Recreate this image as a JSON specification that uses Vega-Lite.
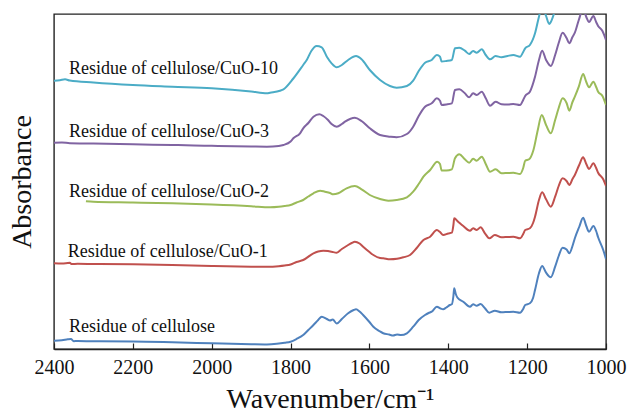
{
  "$schema": "https://vega.github.io/schema/vega-lite/v6.json",
  "width": 552,
  "height": 335,
  "autosize": {"type": "none"},
  "padding": {"left": 54, "top": 14, "right": 23, "bottom": 64},
  "background": "white",
  "config": {"font": "Liberation Serif", "view": {"stroke": "#222", "strokeWidth": 1.4}},
  "datasets": {
    "spectra": [
      {"sample": "cellulose", "wavenumber": 2400, "absorbance": 8.3},
      {"sample": "cellulose", "wavenumber": 2380, "absorbance": 8.7},
      {"sample": "cellulose", "wavenumber": 2365, "absorbance": 9.7},
      {"sample": "cellulose", "wavenumber": 2357, "absorbance": 10.0},
      {"sample": "cellulose", "wavenumber": 2350, "absorbance": 7.8},
      {"sample": "cellulose", "wavenumber": 2340, "absorbance": 8.0},
      {"sample": "cellulose", "wavenumber": 2300, "absorbance": 7.7},
      {"sample": "cellulose", "wavenumber": 2200, "absorbance": 7.5},
      {"sample": "cellulose", "wavenumber": 2100, "absorbance": 6.7},
      {"sample": "cellulose", "wavenumber": 2000, "absorbance": 5.7},
      {"sample": "cellulose", "wavenumber": 1900, "absorbance": 4.8},
      {"sample": "cellulose", "wavenumber": 1860, "absorbance": 4.6},
      {"sample": "cellulose", "wavenumber": 1835, "absorbance": 5.2},
      {"sample": "cellulose", "wavenumber": 1815, "absorbance": 6.2},
      {"sample": "cellulose", "wavenumber": 1800, "absorbance": 7.3},
      {"sample": "cellulose", "wavenumber": 1785, "absorbance": 10},
      {"sample": "cellulose", "wavenumber": 1768, "absorbance": 14},
      {"sample": "cellulose", "wavenumber": 1755, "absorbance": 19},
      {"sample": "cellulose", "wavenumber": 1742, "absorbance": 24},
      {"sample": "cellulose", "wavenumber": 1730, "absorbance": 29},
      {"sample": "cellulose", "wavenumber": 1721, "absorbance": 32.3},
      {"sample": "cellulose", "wavenumber": 1708, "absorbance": 30},
      {"sample": "cellulose", "wavenumber": 1700, "absorbance": 28.5},
      {"sample": "cellulose", "wavenumber": 1693, "absorbance": 29.5},
      {"sample": "cellulose", "wavenumber": 1683, "absorbance": 25.5},
      {"sample": "cellulose", "wavenumber": 1670, "absorbance": 30},
      {"sample": "cellulose", "wavenumber": 1654, "absorbance": 35.7},
      {"sample": "cellulose", "wavenumber": 1640, "absorbance": 39},
      {"sample": "cellulose", "wavenumber": 1634, "absorbance": 39.7},
      {"sample": "cellulose", "wavenumber": 1625, "absorbance": 37.5},
      {"sample": "cellulose", "wavenumber": 1616, "absorbance": 34},
      {"sample": "cellulose", "wavenumber": 1600, "absorbance": 27},
      {"sample": "cellulose", "wavenumber": 1590, "absorbance": 22.3},
      {"sample": "cellulose", "wavenumber": 1575, "absorbance": 18},
      {"sample": "cellulose", "wavenumber": 1565, "absorbance": 15.7},
      {"sample": "cellulose", "wavenumber": 1550, "absorbance": 14.5},
      {"sample": "cellulose", "wavenumber": 1540, "absorbance": 13.5},
      {"sample": "cellulose", "wavenumber": 1530, "absorbance": 14.5},
      {"sample": "cellulose", "wavenumber": 1520, "absorbance": 14},
      {"sample": "cellulose", "wavenumber": 1505, "absorbance": 15.7},
      {"sample": "cellulose", "wavenumber": 1489, "absorbance": 22.3},
      {"sample": "cellulose", "wavenumber": 1475, "absorbance": 29},
      {"sample": "cellulose", "wavenumber": 1459, "absorbance": 34},
      {"sample": "cellulose", "wavenumber": 1450, "absorbance": 36},
      {"sample": "cellulose", "wavenumber": 1442, "absorbance": 37.3},
      {"sample": "cellulose", "wavenumber": 1429, "absorbance": 42.3},
      {"sample": "cellulose", "wavenumber": 1420, "absorbance": 40.5},
      {"sample": "cellulose", "wavenumber": 1413, "absorbance": 39.7},
      {"sample": "cellulose", "wavenumber": 1405, "absorbance": 41.5},
      {"sample": "cellulose", "wavenumber": 1396, "absorbance": 44},
      {"sample": "cellulose", "wavenumber": 1391, "absorbance": 44.7},
      {"sample": "cellulose", "wavenumber": 1387, "absorbance": 53},
      {"sample": "cellulose", "wavenumber": 1385, "absorbance": 60.7},
      {"sample": "cellulose", "wavenumber": 1381, "absorbance": 55},
      {"sample": "cellulose", "wavenumber": 1377, "absorbance": 51.5},
      {"sample": "cellulose", "wavenumber": 1362, "absorbance": 47.3},
      {"sample": "cellulose", "wavenumber": 1345, "absorbance": 42.3},
      {"sample": "cellulose", "wavenumber": 1337, "absorbance": 44.7},
      {"sample": "cellulose", "wavenumber": 1328, "absorbance": 43.3},
      {"sample": "cellulose", "wavenumber": 1318, "absorbance": 45},
      {"sample": "cellulose", "wavenumber": 1307, "absorbance": 40.7},
      {"sample": "cellulose", "wavenumber": 1296, "absorbance": 36.3},
      {"sample": "cellulose", "wavenumber": 1282, "absorbance": 38.3},
      {"sample": "cellulose", "wavenumber": 1265, "absorbance": 36.7},
      {"sample": "cellulose", "wavenumber": 1250, "absorbance": 37},
      {"sample": "cellulose", "wavenumber": 1235, "absorbance": 37.3},
      {"sample": "cellulose", "wavenumber": 1218, "absorbance": 36.3},
      {"sample": "cellulose", "wavenumber": 1210, "absorbance": 40},
      {"sample": "cellulose", "wavenumber": 1205, "absorbance": 44},
      {"sample": "cellulose", "wavenumber": 1193, "absorbance": 45.7},
      {"sample": "cellulose", "wavenumber": 1185, "absorbance": 51},
      {"sample": "cellulose", "wavenumber": 1180, "absorbance": 59},
      {"sample": "cellulose", "wavenumber": 1170, "absorbance": 75.7},
      {"sample": "cellulose", "wavenumber": 1162, "absorbance": 83},
      {"sample": "cellulose", "wavenumber": 1152, "absorbance": 76.3},
      {"sample": "cellulose", "wavenumber": 1140, "absorbance": 71.7},
      {"sample": "cellulose", "wavenumber": 1129, "absorbance": 82.3},
      {"sample": "cellulose", "wavenumber": 1120, "absorbance": 93},
      {"sample": "cellulose", "wavenumber": 1110, "absorbance": 101.3},
      {"sample": "cellulose", "wavenumber": 1100, "absorbance": 99.5},
      {"sample": "cellulose", "wavenumber": 1093, "absorbance": 95.7},
      {"sample": "cellulose", "wavenumber": 1085, "absorbance": 103},
      {"sample": "cellulose", "wavenumber": 1079, "absorbance": 110.7},
      {"sample": "cellulose", "wavenumber": 1068, "absorbance": 122},
      {"sample": "cellulose", "wavenumber": 1058, "absorbance": 131.3},
      {"sample": "cellulose", "wavenumber": 1050, "absorbance": 123},
      {"sample": "cellulose", "wavenumber": 1043, "absorbance": 117.3},
      {"sample": "cellulose", "wavenumber": 1032, "absorbance": 123},
      {"sample": "cellulose", "wavenumber": 1025, "absorbance": 118},
      {"sample": "cellulose", "wavenumber": 1020, "absorbance": 111.7},
      {"sample": "cellulose", "wavenumber": 1007, "absorbance": 99},
      {"sample": "cellulose", "wavenumber": 1000, "absorbance": 90},

      {"sample": "CuO-1", "wavenumber": 2400, "absorbance": 85.7},
      {"sample": "CuO-1", "wavenumber": 2380, "absorbance": 85.5},
      {"sample": "CuO-1", "wavenumber": 2360, "absorbance": 86.2},
      {"sample": "CuO-1", "wavenumber": 2355, "absorbance": 85.0},
      {"sample": "CuO-1", "wavenumber": 2340, "absorbance": 85.2},
      {"sample": "CuO-1", "wavenumber": 2300, "absorbance": 85},
      {"sample": "CuO-1", "wavenumber": 2200, "absorbance": 84.7},
      {"sample": "CuO-1", "wavenumber": 2100, "absorbance": 84},
      {"sample": "CuO-1", "wavenumber": 2000, "absorbance": 83},
      {"sample": "CuO-1", "wavenumber": 1900, "absorbance": 82.3},
      {"sample": "CuO-1", "wavenumber": 1860, "absorbance": 82.2},
      {"sample": "CuO-1", "wavenumber": 1830, "absorbance": 82.8},
      {"sample": "CuO-1", "wavenumber": 1815, "absorbance": 83.5},
      {"sample": "CuO-1", "wavenumber": 1800, "absorbance": 84.5},
      {"sample": "CuO-1", "wavenumber": 1785, "absorbance": 87},
      {"sample": "CuO-1", "wavenumber": 1768, "absorbance": 89},
      {"sample": "CuO-1", "wavenumber": 1742, "absorbance": 95.7},
      {"sample": "CuO-1", "wavenumber": 1730, "absorbance": 97.5},
      {"sample": "CuO-1", "wavenumber": 1717, "absorbance": 98.3},
      {"sample": "CuO-1", "wavenumber": 1705, "absorbance": 98},
      {"sample": "CuO-1", "wavenumber": 1696, "absorbance": 97.3},
      {"sample": "CuO-1", "wavenumber": 1683, "absorbance": 96.3},
      {"sample": "CuO-1", "wavenumber": 1670, "absorbance": 100},
      {"sample": "CuO-1", "wavenumber": 1658, "absorbance": 103},
      {"sample": "CuO-1", "wavenumber": 1645, "absorbance": 106},
      {"sample": "CuO-1", "wavenumber": 1637, "absorbance": 107.3},
      {"sample": "CuO-1", "wavenumber": 1625, "absorbance": 105.5},
      {"sample": "CuO-1", "wavenumber": 1616, "absorbance": 102.3},
      {"sample": "CuO-1", "wavenumber": 1600, "absorbance": 97},
      {"sample": "CuO-1", "wavenumber": 1590, "absorbance": 94},
      {"sample": "CuO-1", "wavenumber": 1573, "absorbance": 91},
      {"sample": "CuO-1", "wavenumber": 1565, "absorbance": 90.7},
      {"sample": "CuO-1", "wavenumber": 1548, "absorbance": 89.7},
      {"sample": "CuO-1", "wavenumber": 1530, "absorbance": 90.2},
      {"sample": "CuO-1", "wavenumber": 1514, "absorbance": 91.7},
      {"sample": "CuO-1", "wavenumber": 1497, "absorbance": 94},
      {"sample": "CuO-1", "wavenumber": 1480, "absorbance": 101},
      {"sample": "CuO-1", "wavenumber": 1463, "absorbance": 109},
      {"sample": "CuO-1", "wavenumber": 1446, "absorbance": 112.3},
      {"sample": "CuO-1", "wavenumber": 1429, "absorbance": 119},
      {"sample": "CuO-1", "wavenumber": 1421, "absorbance": 117},
      {"sample": "CuO-1", "wavenumber": 1413, "absorbance": 114},
      {"sample": "CuO-1", "wavenumber": 1400, "absorbance": 115.5},
      {"sample": "CuO-1", "wavenumber": 1391, "absorbance": 116.3},
      {"sample": "CuO-1", "wavenumber": 1387, "absorbance": 124},
      {"sample": "CuO-1", "wavenumber": 1385, "absorbance": 130.7},
      {"sample": "CuO-1", "wavenumber": 1375, "absorbance": 127.3},
      {"sample": "CuO-1", "wavenumber": 1362, "absorbance": 123},
      {"sample": "CuO-1", "wavenumber": 1345, "absorbance": 118.3},
      {"sample": "CuO-1", "wavenumber": 1337, "absorbance": 120.7},
      {"sample": "CuO-1", "wavenumber": 1328, "absorbance": 119},
      {"sample": "CuO-1", "wavenumber": 1318, "absorbance": 121.7},
      {"sample": "CuO-1", "wavenumber": 1307, "absorbance": 115.7},
      {"sample": "CuO-1", "wavenumber": 1296, "absorbance": 110.7},
      {"sample": "CuO-1", "wavenumber": 1282, "absorbance": 114},
      {"sample": "CuO-1", "wavenumber": 1265, "absorbance": 111.7},
      {"sample": "CuO-1", "wavenumber": 1250, "absorbance": 112},
      {"sample": "CuO-1", "wavenumber": 1235, "absorbance": 112.3},
      {"sample": "CuO-1", "wavenumber": 1218, "absorbance": 110.7},
      {"sample": "CuO-1", "wavenumber": 1210, "absorbance": 115},
      {"sample": "CuO-1", "wavenumber": 1205, "absorbance": 119},
      {"sample": "CuO-1", "wavenumber": 1193, "absorbance": 120.7},
      {"sample": "CuO-1", "wavenumber": 1185, "absorbance": 126},
      {"sample": "CuO-1", "wavenumber": 1180, "absorbance": 132.3},
      {"sample": "CuO-1", "wavenumber": 1170, "absorbance": 149},
      {"sample": "CuO-1", "wavenumber": 1162, "absorbance": 156.7},
      {"sample": "CuO-1", "wavenumber": 1152, "absorbance": 149.7},
      {"sample": "CuO-1", "wavenumber": 1140, "absorbance": 142.3},
      {"sample": "CuO-1", "wavenumber": 1129, "absorbance": 152.3},
      {"sample": "CuO-1", "wavenumber": 1120, "absorbance": 163},
      {"sample": "CuO-1", "wavenumber": 1110, "absorbance": 170.7},
      {"sample": "CuO-1", "wavenumber": 1100, "absorbance": 168},
      {"sample": "CuO-1", "wavenumber": 1093, "absorbance": 164},
      {"sample": "CuO-1", "wavenumber": 1085, "absorbance": 170},
      {"sample": "CuO-1", "wavenumber": 1079, "absorbance": 174},
      {"sample": "CuO-1", "wavenumber": 1068, "absorbance": 184},
      {"sample": "CuO-1", "wavenumber": 1058, "absorbance": 191.7},
      {"sample": "CuO-1", "wavenumber": 1050, "absorbance": 185},
      {"sample": "CuO-1", "wavenumber": 1043, "absorbance": 180},
      {"sample": "CuO-1", "wavenumber": 1032, "absorbance": 185.7},
      {"sample": "CuO-1", "wavenumber": 1025, "absorbance": 181},
      {"sample": "CuO-1", "wavenumber": 1020, "absorbance": 176.3},
      {"sample": "CuO-1", "wavenumber": 1007, "absorbance": 169.7},
      {"sample": "CuO-1", "wavenumber": 1000, "absorbance": 163},

      {"sample": "CuO-2", "wavenumber": 2319, "absorbance": 147.7},
      {"sample": "CuO-2", "wavenumber": 2300, "absorbance": 147.2},
      {"sample": "CuO-2", "wavenumber": 2200, "absorbance": 146.5},
      {"sample": "CuO-2", "wavenumber": 2100, "absorbance": 145.7},
      {"sample": "CuO-2", "wavenumber": 2000, "absorbance": 144.5},
      {"sample": "CuO-2", "wavenumber": 1900, "absorbance": 142.8},
      {"sample": "CuO-2", "wavenumber": 1852, "absorbance": 141.7},
      {"sample": "CuO-2", "wavenumber": 1830, "absorbance": 142.2},
      {"sample": "CuO-2", "wavenumber": 1815, "absorbance": 143},
      {"sample": "CuO-2", "wavenumber": 1800, "absorbance": 144},
      {"sample": "CuO-2", "wavenumber": 1785, "absorbance": 146.5},
      {"sample": "CuO-2", "wavenumber": 1768, "absorbance": 149},
      {"sample": "CuO-2", "wavenumber": 1755, "absorbance": 152.5},
      {"sample": "CuO-2", "wavenumber": 1742, "absorbance": 155.7},
      {"sample": "CuO-2", "wavenumber": 1725, "absorbance": 158.3},
      {"sample": "CuO-2", "wavenumber": 1713, "absorbance": 157.3},
      {"sample": "CuO-2", "wavenumber": 1700, "absorbance": 156},
      {"sample": "CuO-2", "wavenumber": 1692, "absorbance": 154.7},
      {"sample": "CuO-2", "wavenumber": 1679, "absorbance": 155.7},
      {"sample": "CuO-2", "wavenumber": 1658, "absorbance": 160.7},
      {"sample": "CuO-2", "wavenumber": 1637, "absorbance": 163},
      {"sample": "CuO-2", "wavenumber": 1620, "absorbance": 159.7},
      {"sample": "CuO-2", "wavenumber": 1599, "absorbance": 154},
      {"sample": "CuO-2", "wavenumber": 1573, "absorbance": 150},
      {"sample": "CuO-2", "wavenumber": 1552, "absorbance": 148.3},
      {"sample": "CuO-2", "wavenumber": 1531, "absorbance": 149},
      {"sample": "CuO-2", "wavenumber": 1505, "absorbance": 151.7},
      {"sample": "CuO-2", "wavenumber": 1489, "absorbance": 157.3},
      {"sample": "CuO-2", "wavenumber": 1475, "absorbance": 165},
      {"sample": "CuO-2", "wavenumber": 1463, "absorbance": 172.3},
      {"sample": "CuO-2", "wavenumber": 1446, "absorbance": 179},
      {"sample": "CuO-2", "wavenumber": 1428, "absorbance": 187.3},
      {"sample": "CuO-2", "wavenumber": 1421, "absorbance": 185},
      {"sample": "CuO-2", "wavenumber": 1417, "absorbance": 178.5},
      {"sample": "CuO-2", "wavenumber": 1405, "absorbance": 178.5},
      {"sample": "CuO-2", "wavenumber": 1391, "absorbance": 179.7},
      {"sample": "CuO-2", "wavenumber": 1383, "absorbance": 190.7},
      {"sample": "CuO-2", "wavenumber": 1372, "absorbance": 194.7},
      {"sample": "CuO-2", "wavenumber": 1358, "absorbance": 189.7},
      {"sample": "CuO-2", "wavenumber": 1347, "absorbance": 186.3},
      {"sample": "CuO-2", "wavenumber": 1337, "absorbance": 190.3},
      {"sample": "CuO-2", "wavenumber": 1328, "absorbance": 188.3},
      {"sample": "CuO-2", "wavenumber": 1315, "absorbance": 192.3},
      {"sample": "CuO-2", "wavenumber": 1305, "absorbance": 185},
      {"sample": "CuO-2", "wavenumber": 1294, "absorbance": 177.3},
      {"sample": "CuO-2", "wavenumber": 1280, "absorbance": 179.7},
      {"sample": "CuO-2", "wavenumber": 1265, "absorbance": 175.7},
      {"sample": "CuO-2", "wavenumber": 1250, "absorbance": 176},
      {"sample": "CuO-2", "wavenumber": 1235, "absorbance": 176.3},
      {"sample": "CuO-2", "wavenumber": 1218, "absorbance": 175},
      {"sample": "CuO-2", "wavenumber": 1210, "absorbance": 181},
      {"sample": "CuO-2", "wavenumber": 1205, "absorbance": 188.3},
      {"sample": "CuO-2", "wavenumber": 1195, "absorbance": 189.7},
      {"sample": "CuO-2", "wavenumber": 1184, "absorbance": 199},
      {"sample": "CuO-2", "wavenumber": 1173, "absorbance": 219},
      {"sample": "CuO-2", "wavenumber": 1163, "absorbance": 234},
      {"sample": "CuO-2", "wavenumber": 1152, "absorbance": 224},
      {"sample": "CuO-2", "wavenumber": 1140, "absorbance": 215.7},
      {"sample": "CuO-2", "wavenumber": 1129, "absorbance": 229},
      {"sample": "CuO-2", "wavenumber": 1120, "absorbance": 241},
      {"sample": "CuO-2", "wavenumber": 1110, "absorbance": 250.7},
      {"sample": "CuO-2", "wavenumber": 1100, "absorbance": 246},
      {"sample": "CuO-2", "wavenumber": 1093, "absorbance": 238.3},
      {"sample": "CuO-2", "wavenumber": 1085, "absorbance": 247},
      {"sample": "CuO-2", "wavenumber": 1079, "absorbance": 252.3},
      {"sample": "CuO-2", "wavenumber": 1069, "absorbance": 262.3},
      {"sample": "CuO-2", "wavenumber": 1058, "absorbance": 275},
      {"sample": "CuO-2", "wavenumber": 1050, "absorbance": 267},
      {"sample": "CuO-2", "wavenumber": 1043, "absorbance": 261.7},
      {"sample": "CuO-2", "wavenumber": 1032, "absorbance": 267.3},
      {"sample": "CuO-2", "wavenumber": 1025, "absorbance": 262},
      {"sample": "CuO-2", "wavenumber": 1020, "absorbance": 257.3},
      {"sample": "CuO-2", "wavenumber": 1009, "absorbance": 253},
      {"sample": "CuO-2", "wavenumber": 1000, "absorbance": 244},

      {"sample": "CuO-3", "wavenumber": 2400, "absorbance": 206.3},
      {"sample": "CuO-3", "wavenumber": 2380, "absorbance": 206.5},
      {"sample": "CuO-3", "wavenumber": 2360, "absorbance": 205.8},
      {"sample": "CuO-3", "wavenumber": 2300, "absorbance": 205.5},
      {"sample": "CuO-3", "wavenumber": 2200, "absorbance": 204.7},
      {"sample": "CuO-3", "wavenumber": 2100, "absorbance": 204},
      {"sample": "CuO-3", "wavenumber": 2000, "absorbance": 203.2},
      {"sample": "CuO-3", "wavenumber": 1900, "absorbance": 202.5},
      {"sample": "CuO-3", "wavenumber": 1860, "absorbance": 202.3},
      {"sample": "CuO-3", "wavenumber": 1830, "absorbance": 203},
      {"sample": "CuO-3", "wavenumber": 1818, "absorbance": 204},
      {"sample": "CuO-3", "wavenumber": 1800, "absorbance": 207.5},
      {"sample": "CuO-3", "wavenumber": 1793, "absorbance": 210.7},
      {"sample": "CuO-3", "wavenumber": 1776, "absorbance": 215.7},
      {"sample": "CuO-3", "wavenumber": 1768, "absorbance": 220.7},
      {"sample": "CuO-3", "wavenumber": 1755, "absorbance": 226},
      {"sample": "CuO-3", "wavenumber": 1742, "absorbance": 232.3},
      {"sample": "CuO-3", "wavenumber": 1727, "absorbance": 234.7},
      {"sample": "CuO-3", "wavenumber": 1717, "absorbance": 233},
      {"sample": "CuO-3", "wavenumber": 1705, "absorbance": 229},
      {"sample": "CuO-3", "wavenumber": 1696, "absorbance": 225},
      {"sample": "CuO-3", "wavenumber": 1683, "absorbance": 222.3},
      {"sample": "CuO-3", "wavenumber": 1670, "absorbance": 225},
      {"sample": "CuO-3", "wavenumber": 1662, "absorbance": 227.3},
      {"sample": "CuO-3", "wavenumber": 1637, "absorbance": 231.3},
      {"sample": "CuO-3", "wavenumber": 1620, "absorbance": 228},
      {"sample": "CuO-3", "wavenumber": 1599, "absorbance": 220.7},
      {"sample": "CuO-3", "wavenumber": 1573, "absorbance": 214},
      {"sample": "CuO-3", "wavenumber": 1548, "absorbance": 212.3},
      {"sample": "CuO-3", "wavenumber": 1531, "absorbance": 211.7},
      {"sample": "CuO-3", "wavenumber": 1505, "absorbance": 215},
      {"sample": "CuO-3", "wavenumber": 1489, "absorbance": 222.3},
      {"sample": "CuO-3", "wavenumber": 1475, "absorbance": 233},
      {"sample": "CuO-3", "wavenumber": 1459, "absorbance": 242.3},
      {"sample": "CuO-3", "wavenumber": 1442, "absorbance": 245.7},
      {"sample": "CuO-3", "wavenumber": 1429, "absorbance": 250.7},
      {"sample": "CuO-3", "wavenumber": 1421, "absorbance": 248.3},
      {"sample": "CuO-3", "wavenumber": 1417, "absorbance": 244},
      {"sample": "CuO-3", "wavenumber": 1405, "absorbance": 244.5},
      {"sample": "CuO-3", "wavenumber": 1391, "absorbance": 245.7},
      {"sample": "CuO-3", "wavenumber": 1383, "absorbance": 259},
      {"sample": "CuO-3", "wavenumber": 1372, "absorbance": 259.7},
      {"sample": "CuO-3", "wavenumber": 1358, "absorbance": 255.7},
      {"sample": "CuO-3", "wavenumber": 1347, "absorbance": 251.7},
      {"sample": "CuO-3", "wavenumber": 1337, "absorbance": 255.7},
      {"sample": "CuO-3", "wavenumber": 1328, "absorbance": 254},
      {"sample": "CuO-3", "wavenumber": 1315, "absorbance": 257.3},
      {"sample": "CuO-3", "wavenumber": 1305, "absorbance": 250.7},
      {"sample": "CuO-3", "wavenumber": 1294, "absorbance": 243.3},
      {"sample": "CuO-3", "wavenumber": 1280, "absorbance": 247.3},
      {"sample": "CuO-3", "wavenumber": 1265, "absorbance": 244.7},
      {"sample": "CuO-3", "wavenumber": 1250, "absorbance": 244.5},
      {"sample": "CuO-3", "wavenumber": 1235, "absorbance": 245},
      {"sample": "CuO-3", "wavenumber": 1218, "absorbance": 244},
      {"sample": "CuO-3", "wavenumber": 1210, "absorbance": 249},
      {"sample": "CuO-3", "wavenumber": 1205, "absorbance": 253},
      {"sample": "CuO-3", "wavenumber": 1193, "absorbance": 257.3},
      {"sample": "CuO-3", "wavenumber": 1180, "absorbance": 272.3},
      {"sample": "CuO-3", "wavenumber": 1170, "absorbance": 289},
      {"sample": "CuO-3", "wavenumber": 1162, "absorbance": 298.3},
      {"sample": "CuO-3", "wavenumber": 1152, "absorbance": 289},
      {"sample": "CuO-3", "wavenumber": 1140, "absorbance": 283},
      {"sample": "CuO-3", "wavenumber": 1129, "absorbance": 294},
      {"sample": "CuO-3", "wavenumber": 1120, "absorbance": 306},
      {"sample": "CuO-3", "wavenumber": 1110, "absorbance": 316.3},
      {"sample": "CuO-3", "wavenumber": 1100, "absorbance": 311},
      {"sample": "CuO-3", "wavenumber": 1093, "absorbance": 305.7},
      {"sample": "CuO-3", "wavenumber": 1085, "absorbance": 312},
      {"sample": "CuO-3", "wavenumber": 1079, "absorbance": 316.3},
      {"sample": "CuO-3", "wavenumber": 1069, "absorbance": 329},
      {"sample": "CuO-3", "wavenumber": 1058, "absorbance": 340},
      {"sample": "CuO-3", "wavenumber": 1050, "absorbance": 332},
      {"sample": "CuO-3", "wavenumber": 1043, "absorbance": 327},
      {"sample": "CuO-3", "wavenumber": 1032, "absorbance": 333},
      {"sample": "CuO-3", "wavenumber": 1025, "absorbance": 327},
      {"sample": "CuO-3", "wavenumber": 1020, "absorbance": 323},
      {"sample": "CuO-3", "wavenumber": 1009, "absorbance": 318},
      {"sample": "CuO-3", "wavenumber": 1000, "absorbance": 309},

      {"sample": "CuO-10", "wavenumber": 2400, "absorbance": 268.3},
      {"sample": "CuO-10", "wavenumber": 2385, "absorbance": 268.8},
      {"sample": "CuO-10", "wavenumber": 2372, "absorbance": 269.7},
      {"sample": "CuO-10", "wavenumber": 2360, "absorbance": 268.5},
      {"sample": "CuO-10", "wavenumber": 2300, "absorbance": 266.5},
      {"sample": "CuO-10", "wavenumber": 2200, "absorbance": 264},
      {"sample": "CuO-10", "wavenumber": 2100, "absorbance": 262.3},
      {"sample": "CuO-10", "wavenumber": 2000, "absorbance": 260.7},
      {"sample": "CuO-10", "wavenumber": 1900, "absorbance": 257.5},
      {"sample": "CuO-10", "wavenumber": 1860, "absorbance": 255.7},
      {"sample": "CuO-10", "wavenumber": 1852, "absorbance": 256.3},
      {"sample": "CuO-10", "wavenumber": 1827, "absorbance": 258.3},
      {"sample": "CuO-10", "wavenumber": 1818, "absorbance": 259.7},
      {"sample": "CuO-10", "wavenumber": 1793, "absorbance": 270.5},
      {"sample": "CuO-10", "wavenumber": 1768, "absorbance": 284},
      {"sample": "CuO-10", "wavenumber": 1759, "absorbance": 289},
      {"sample": "CuO-10", "wavenumber": 1747, "absorbance": 298.3},
      {"sample": "CuO-10", "wavenumber": 1734, "absorbance": 303},
      {"sample": "CuO-10", "wavenumber": 1721, "absorbance": 301.7},
      {"sample": "CuO-10", "wavenumber": 1708, "absorbance": 292.3},
      {"sample": "CuO-10", "wavenumber": 1696, "absorbance": 285.7},
      {"sample": "CuO-10", "wavenumber": 1683, "absorbance": 281.7},
      {"sample": "CuO-10", "wavenumber": 1670, "absorbance": 284},
      {"sample": "CuO-10", "wavenumber": 1654, "absorbance": 289},
      {"sample": "CuO-10", "wavenumber": 1634, "absorbance": 293},
      {"sample": "CuO-10", "wavenumber": 1620, "absorbance": 289.7},
      {"sample": "CuO-10", "wavenumber": 1599, "absorbance": 279},
      {"sample": "CuO-10", "wavenumber": 1573, "absorbance": 269},
      {"sample": "CuO-10", "wavenumber": 1548, "absorbance": 263},
      {"sample": "CuO-10", "wavenumber": 1531, "absorbance": 261.3},
      {"sample": "CuO-10", "wavenumber": 1505, "absorbance": 263},
      {"sample": "CuO-10", "wavenumber": 1489, "absorbance": 268.3},
      {"sample": "CuO-10", "wavenumber": 1475, "absorbance": 278},
      {"sample": "CuO-10", "wavenumber": 1459, "absorbance": 286.3},
      {"sample": "CuO-10", "wavenumber": 1442, "absorbance": 289},
      {"sample": "CuO-10", "wavenumber": 1429, "absorbance": 294},
      {"sample": "CuO-10", "wavenumber": 1421, "absorbance": 292.3},
      {"sample": "CuO-10", "wavenumber": 1417, "absorbance": 287.5},
      {"sample": "CuO-10", "wavenumber": 1405, "absorbance": 288},
      {"sample": "CuO-10", "wavenumber": 1391, "absorbance": 289},
      {"sample": "CuO-10", "wavenumber": 1383, "absorbance": 300.7},
      {"sample": "CuO-10", "wavenumber": 1372, "absorbance": 301.3},
      {"sample": "CuO-10", "wavenumber": 1358, "absorbance": 298.3},
      {"sample": "CuO-10", "wavenumber": 1347, "absorbance": 295},
      {"sample": "CuO-10", "wavenumber": 1337, "absorbance": 298},
      {"sample": "CuO-10", "wavenumber": 1328, "absorbance": 296.3},
      {"sample": "CuO-10", "wavenumber": 1315, "absorbance": 299.7},
      {"sample": "CuO-10", "wavenumber": 1305, "absorbance": 294},
      {"sample": "CuO-10", "wavenumber": 1294, "absorbance": 289.7},
      {"sample": "CuO-10", "wavenumber": 1280, "absorbance": 293},
      {"sample": "CuO-10", "wavenumber": 1265, "absorbance": 291.7},
      {"sample": "CuO-10", "wavenumber": 1250, "absorbance": 293},
      {"sample": "CuO-10", "wavenumber": 1235, "absorbance": 294},
      {"sample": "CuO-10", "wavenumber": 1218, "absorbance": 292.3},
      {"sample": "CuO-10", "wavenumber": 1210, "absorbance": 297},
      {"sample": "CuO-10", "wavenumber": 1205, "absorbance": 300.7},
      {"sample": "CuO-10", "wavenumber": 1193, "absorbance": 304},
      {"sample": "CuO-10", "wavenumber": 1180, "absorbance": 315.7},
      {"sample": "CuO-10", "wavenumber": 1170, "absorbance": 332.3},
      {"sample": "CuO-10", "wavenumber": 1162, "absorbance": 343},
      {"sample": "CuO-10", "wavenumber": 1152, "absorbance": 333},
      {"sample": "CuO-10", "wavenumber": 1144, "absorbance": 325},
      {"sample": "CuO-10", "wavenumber": 1140, "absorbance": 327},
      {"sample": "CuO-10", "wavenumber": 1129, "absorbance": 339},
      {"sample": "CuO-10", "wavenumber": 1120, "absorbance": 351},
      {"sample": "CuO-10", "wavenumber": 1110, "absorbance": 361},
      {"sample": "CuO-10", "wavenumber": 1100, "absorbance": 356},
      {"sample": "CuO-10", "wavenumber": 1093, "absorbance": 351},
      {"sample": "CuO-10", "wavenumber": 1085, "absorbance": 357},
      {"sample": "CuO-10", "wavenumber": 1079, "absorbance": 361},
      {"sample": "CuO-10", "wavenumber": 1069, "absorbance": 374},
      {"sample": "CuO-10", "wavenumber": 1058, "absorbance": 385},
      {"sample": "CuO-10", "wavenumber": 1050, "absorbance": 377},
      {"sample": "CuO-10", "wavenumber": 1043, "absorbance": 372},
      {"sample": "CuO-10", "wavenumber": 1032, "absorbance": 378},
      {"sample": "CuO-10", "wavenumber": 1025, "absorbance": 372},
      {"sample": "CuO-10", "wavenumber": 1020, "absorbance": 368},
      {"sample": "CuO-10", "wavenumber": 1009, "absorbance": 363},
      {"sample": "CuO-10", "wavenumber": 1000, "absorbance": 354}
    ],
    "labels": [
      {"label": "Residue of cellulose/CuO-10", "wavenumber": 2362, "absorbance": 275},
      {"label": "Residue of cellulose/CuO-3", "wavenumber": 2362, "absorbance": 212},
      {"label": "Residue of cellulose/CuO-2", "wavenumber": 2362, "absorbance": 152},
      {"label": "Residue of cellulose/CuO-1", "wavenumber": 2365, "absorbance": 92},
      {"label": "Residue of cellulose", "wavenumber": 2362, "absorbance": 17.3}
    ]
  },
  "layer": [
    {
      "data": {"name": "spectra"},
      "mark": {"type": "line", "clip": true, "strokeWidth": 2, "interpolate": "monotone"},
      "encoding": {
        "x": {
          "field": "wavenumber", "type": "quantitative",
          "scale": {"domain": [2400, 1000], "nice": false, "zero": false},
          "axis": {
            "title": "Wavenumber/cm⁻¹",
            "values": [2400, 2200, 2000, 1800, 1600, 1400, 1200, 1000],
            "format": "d",
            "grid": false,
            "tickSize": -6,
            "tickColor": "#222",
            "tickWidth": 1.2,
            "domainColor": "#222",
            "domainWidth": 1.4,
            "labelFontSize": 20,
            "labelColor": "#111",
            "labelPadding": 14,
            "labelFlush": false,
            "labelOverlap": false,
            "titleFontSize": 28,
            "titleFontWeight": "normal",
            "titleColor": "#111",
            "titlePadding": 8
          }
        },
        "y": {
          "field": "absorbance", "type": "quantitative",
          "scale": {"domain": [0, 335], "nice": false, "zero": false},
          "axis": {
            "title": "Absorbance",
            "labels": false, "ticks": false, "domain": false, "grid": false,
            "titleFontSize": 28, "titleFontWeight": "normal", "titleColor": "#111",
            "titlePadding": 18
          }
        },
        "color": {
          "field": "sample", "type": "nominal",
          "scale": {
            "domain": ["cellulose", "CuO-1", "CuO-2", "CuO-3", "CuO-10"],
            "range": ["#4F81BD", "#C0504D", "#9BBB59", "#8064A2", "#4BACC6"]
          },
          "legend": null
        }
      }
    },
    {
      "data": {"name": "labels"},
      "mark": {"type": "text", "align": "left", "baseline": "alphabetic", "fontSize": 18, "font": "Liberation Serif", "color": "#111"},
      "encoding": {
        "x": {"field": "wavenumber", "type": "quantitative"},
        "y": {"field": "absorbance", "type": "quantitative"},
        "text": {"field": "label"}
      }
    }
  ]
}
